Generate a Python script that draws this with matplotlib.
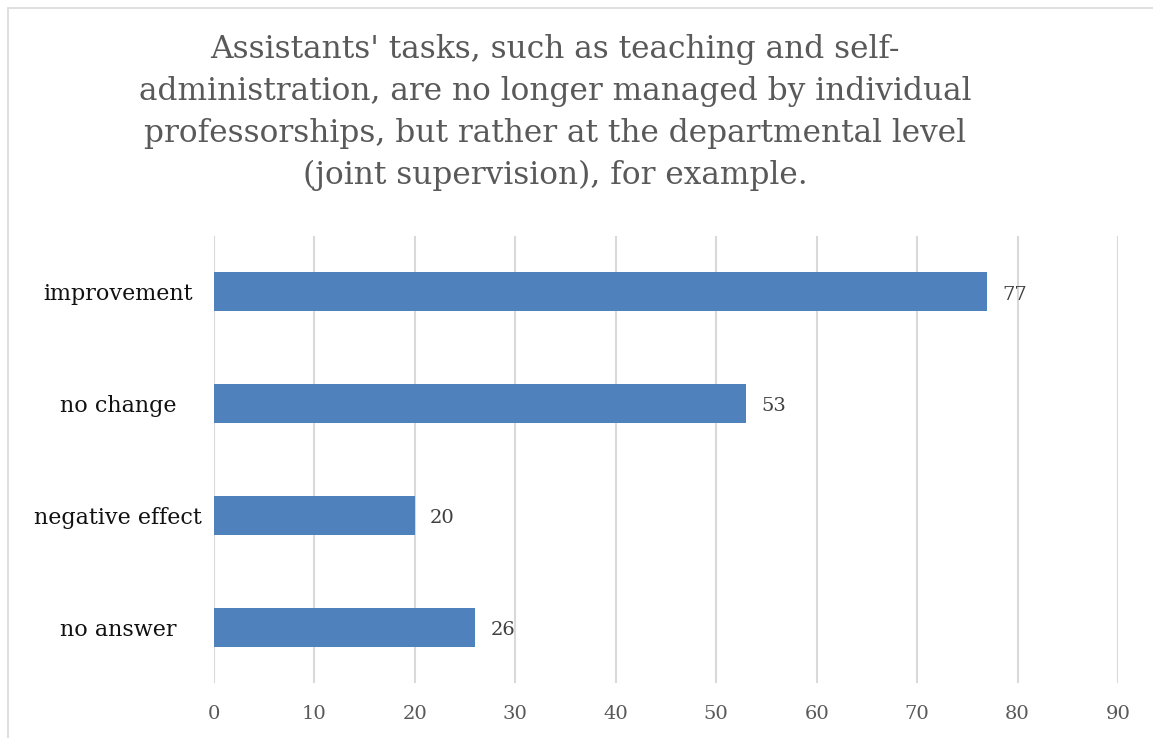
import matplotlib
matplotlib.use("Agg")
import matplotlib.pyplot as plt
from matplotlib.patches import Rectangle

categories = ["improvement", "no change", "negative effect", "no answer"]
values = [77, 53, 20, 26]
xticks = [0, 10, 20, 30, 40, 50, 60, 70, 80, 90]
title = ("Assistants' tasks, such as teaching and self-\n"
         "administration, are no longer managed by individual\n"
         "professorships, but rather at the departmental level\n"
         "(joint supervision), for example.")

W, H = 1153, 738
fig = plt.figure(figsize=(W / 100, H / 100), dpi=100)
plt.rcParams['font.family'] = ['DejaVu Serif']

ax = fig.add_axes([214 / W, 1 - 683 / H, (1118 - 214) / W, (683 - 236) / H])
ypos = list(range(len(categories)))
ax.barh(ypos, values, height=0.35, color="#4f81bd", zorder=3)
ax.set_ylim(len(categories) - 0.5, -0.5)
ax.set_xlim(0, 90)
ax.set_xticks(xticks)
ax.set_xticklabels([str(t) for t in xticks], fontsize=14, color="#595959")
ax.tick_params(axis="x", length=0, pad=16)
ax.set_yticks(ypos)
ax.set_yticklabels(categories, fontsize=16, color="#111111", ha="center")
ax.tick_params(axis="y", length=0, pad=69)
ax.grid(axis="x", color="#d9d9d9", linewidth=1.5, zorder=0)
for s in ax.spines.values():
    s.set_visible(False)

for y, v in zip(ypos, values):
    ax.annotate(str(v), (v, y), xytext=(11, -2), textcoords="offset points",
                ha="left", va="center", fontsize=14, color="#404040")

fig.text(555 / W, 1 - 34 / H, title, ha="center", va="top", fontsize=22.5,
         color="#595959", linespacing=1.45)

fig.patches.append(Rectangle((8 / W, -0.1), 1.2, 1 - 8 / H + 0.1,
                             transform=fig.transFigure, fill=False,
                             edgecolor="#d9d9d9", linewidth=1.2))

fig.savefig("out.png", dpi=100)
